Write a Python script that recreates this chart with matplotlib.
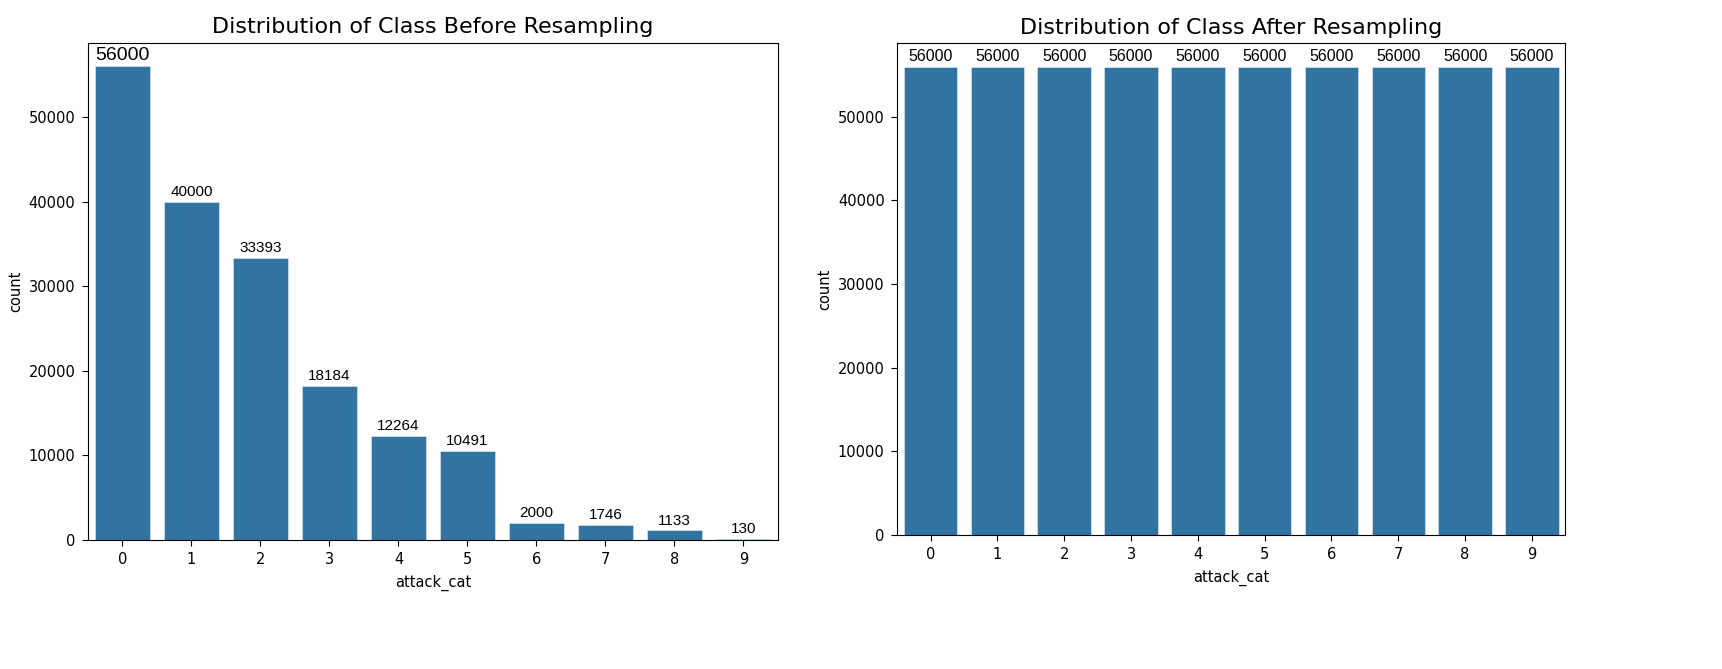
import matplotlib
matplotlib.use("Agg")
import matplotlib.pyplot as plt

categories = ["0", "1", "2", "3", "4", "5", "6", "7", "8", "9"]
before_counts = [56000, 40000, 33393, 18184, 12264, 10491, 2000, 1746, 1133, 130]
after_counts = [56000, 56000, 56000, 56000, 56000, 56000, 56000, 56000, 56000, 56000]

bar_color = "#3274a1"

fig = plt.figure(figsize=(17.22, 6.69), dpi=100)
ax1 = fig.add_axes([0.0511, 0.193, 0.4007, 0.743])
ax2 = fig.add_axes([0.521, 0.2003, 0.388, 0.735])

def draw(ax, counts, title, label_sizes):
    x = list(range(len(categories)))
    bars = ax.bar(x, counts, width=0.8, color=bar_color, edgecolor="#d6e4ee", linewidth=0.5)
    ax.set_xlim(-0.5, len(categories) - 0.5)
    ax.set_ylim(0, max(counts) * 1.05)
    ax.set_xticks(x)
    ax.set_xticklabels(categories)
    ax.set_yticks([0, 10000, 20000, 30000, 40000, 50000])
    ax.tick_params(labelsize=10.5, length=4, pad=5)
    ax.set_xlabel("attack_cat", fontsize=10.5, labelpad=5)
    ax.set_ylabel("count", fontsize=10.5)
    ax.set_title(title, fontsize=16, pad=7)
    for rect, v, fs in zip(bars, counts, label_sizes):
        ax.annotate(str(v), (rect.get_x() + rect.get_width() / 2, v),
                    xytext=(0, 2), textcoords="offset points",
                    ha="center", va="bottom", fontsize=fs,
                    family=["Liberation Sans", "DejaVu Sans"], color="black")

draw(ax1, before_counts, "Distribution of Class Before Resampling",
     [14] + [11] * 9)
draw(ax2, after_counts, "Distribution of Class After Resampling",
     [11.5] * 10)

fig.savefig("out.png", dpi=100)
